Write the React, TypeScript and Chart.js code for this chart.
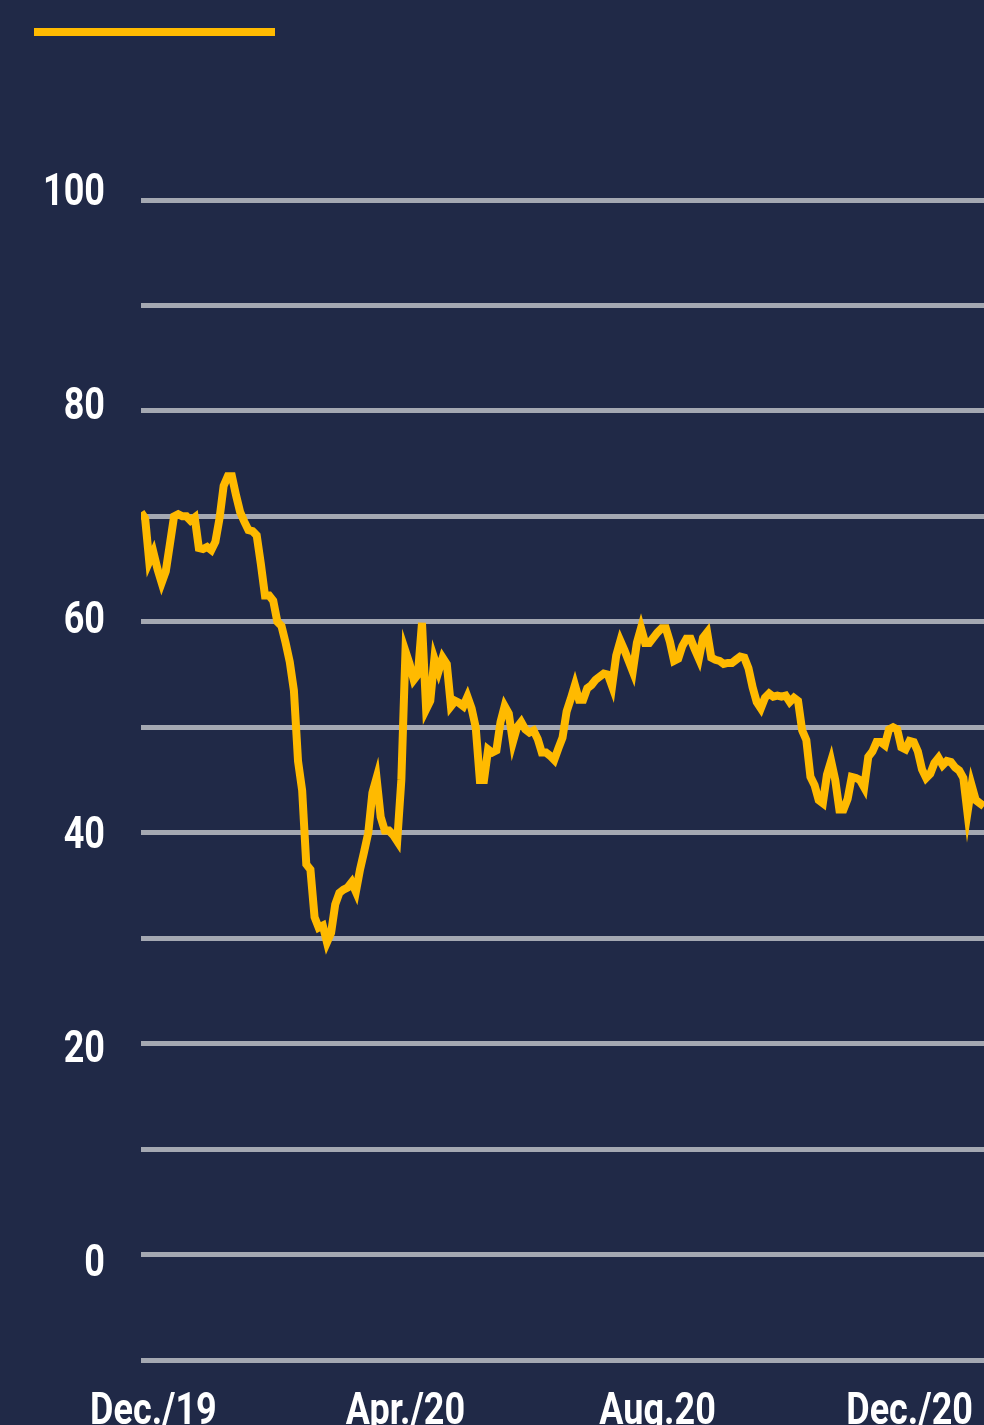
import React, { useEffect, useRef } from "react";
import { Chart, registerables } from "chart.js";

Chart.register(...registerables);

// Index values sampled every 2 days, starting 6 days before 1 Dec 2019
const startDay = -6;
const stepDays = 2;
const values: number[] = [
  70.4, 69.8, 65.7, 66.6, 65.0, 63.7, 64.8, 67.4, 70.0, 70.2,
  70.0, 70.0, 69.6, 69.9, 67.0, 66.9, 67.1, 66.8, 67.6, 69.8,
  72.9, 73.8, 73.8, 72.0, 70.4, 69.5, 68.7, 68.6, 68.2, 65.5,
  62.5, 62.5, 62.0, 60.0, 59.6, 58.0, 56.2, 53.5, 46.8, 44.0,
  37.0, 36.5, 32.0, 31.0, 31.2, 29.6, 30.5, 33.2, 34.3, 34.6,
  34.8, 35.3, 34.4, 36.5, 38.2, 40.0, 43.8, 45.2, 41.5, 40.2,
  40.2, 39.8, 39.2, 45.0, 57.2, 56.0, 54.5, 55.0, 59.9, 51.7,
  52.5, 56.5, 55.3, 56.6, 56.0, 52.0, 52.5, 52.3, 52.0, 52.9,
  51.8, 50.0, 45.0, 45.0, 47.9, 47.6, 47.8, 50.5, 52.0, 51.3,
  48.6, 50.0, 50.5, 49.8, 49.5, 49.7, 48.9, 47.6, 47.6, 47.3,
  46.9, 48.0, 49.0, 51.5, 52.7, 54.0, 52.6, 52.6, 53.7, 54.0,
  54.5, 54.8, 55.1, 55.0, 53.9, 56.8, 58.2, 57.3, 56.3, 55.3,
  58.0, 59.4, 58.0, 58.0, 58.5, 59.0, 59.4, 59.4, 58.1, 56.3,
  56.5, 57.7, 58.4, 58.4, 57.4, 56.5, 58.5, 59.0, 56.6, 56.4,
  56.3, 56.0, 56.1, 56.1, 56.4, 56.7, 56.6, 55.6, 53.8, 52.4,
  51.8, 52.8, 53.2, 52.9, 53.0, 52.9, 53.0, 52.4, 52.8, 52.5,
  49.7, 48.8, 45.3, 44.5, 43.1, 42.8, 45.5, 46.8, 45.0, 42.2,
  42.2, 43.2, 45.3, 45.2, 45.0, 44.3, 47.2, 47.7, 48.6, 48.6,
  48.3, 49.8, 50.0, 49.8, 48.1, 47.9, 48.7, 48.6, 47.7, 46.0,
  45.2, 45.6, 46.6, 47.1, 46.4, 46.8, 46.7, 46.2, 45.9, 45.2,
  41.9, 44.5, 43.1, 42.8, 42.5,
];

const xTickDays = [0, 122, 244, 366];
const xTickLabels = ["Dec./19", "Apr./20", "Aug.20", "Dec./20"];
const yLabelValues = [0, 20, 40, 60, 80, 100];

const BG = "#202947";
const YELLOW = "#FFBA00";
const GRID = "#A4A8B2";
const LABEL_FONT = 'bold 45px Roboto, "Noto Sans", sans-serif';
const CONDENSE = 0.8;

// Draws the condensed (Roboto-Condensed-like) tick labels from the chart's scales
const condensedLabels = {
  id: "condensedLabels",
  afterDraw(chart: any) {
    const ctx = chart.ctx as CanvasRenderingContext2D;
    const xs = chart.scales.x;
    const yl = chart.scales.yl;
    const area = chart.chartArea;
    ctx.save();
    ctx.font = LABEL_FONT;
    ctx.fillStyle = "#FFFFFF";
    ctx.textBaseline = "alphabetic";
    yLabelValues.forEach((v) => {
      const py = yl.getPixelForValue(v);
      ctx.save();
      ctx.translate(area.left - 36, py + 16);
      ctx.scale(CONDENSE, 1);
      ctx.textAlign = "right";
      ctx.fillText(String(v), 0, 0);
      ctx.restore();
    });
    xTickDays.forEach((d, k) => {
      const px = xs.getPixelForValue(d);
      ctx.save();
      ctx.translate(px, area.bottom + 64);
      ctx.scale(CONDENSE, 1);
      ctx.textAlign = "center";
      ctx.fillText(xTickLabels[k], 0, 0);
      ctx.restore();
    });
    ctx.restore();
  },
};

export default function App() {
  const ref = useRef<HTMLCanvasElement | null>(null);

  useEffect(() => {
    if (!ref.current) return;
    const points = values.map((v, i) => ({ x: startDay + stepDays * i, y: v }));
    const chart = new Chart(ref.current, {
      type: "line",
      data: {
        datasets: [
          {
            data: points,
            borderColor: YELLOW,
            borderWidth: 8,
            pointRadius: 0,
            tension: 0,
            fill: false,
          },
        ],
      },
      options: {
        animation: false,
        responsive: false,
        devicePixelRatio: 1,
        layout: { padding: { top: 200, left: 0, right: 0, bottom: 0 } },
        plugins: { legend: { display: false }, tooltip: { enabled: false } },
        scales: {
          x: {
            type: "linear",
            min: startDay,
            max: startDay + stepDays * (values.length - 1),
            grid: { display: false, drawTicks: false },
            border: { display: false },
            ticks: { display: false },
            afterFit: (s: any) => {
              s.height = 100;
              s.paddingLeft = 0;
              s.paddingRight = 0;
            },
          },
          y: {
            position: "left",
            min: -10,
            max: 100,
            grid: { color: GRID, lineWidth: 5, drawTicks: false },
            border: { display: false },
            ticks: { stepSize: 10, display: false },
            afterFit: (s: any) => {
              s.width = 141;
              s.paddingTop = 0;
              s.paddingBottom = 0;
            },
          },
          yl: {
            position: "left",
            min: -100 / 10.71,
            max: 1060 / 10.71,
            grid: { display: false, drawTicks: false },
            border: { display: false },
            ticks: { display: false },
            afterFit: (s: any) => {
              s.width = 0;
              s.paddingTop = 0;
              s.paddingBottom = 0;
            },
          },
        },
      },
      plugins: [condensedLabels],
    } as any);
    return () => chart.destroy();
  }, []);

  return (
    <div
      style={{
        position: "absolute",
        left: 0,
        top: 0,
        width: 984,
        height: 1425,
        overflow: "hidden",
        background: BG,
      }}
    >
      <div
        style={{
          position: "absolute",
          left: 34,
          top: 28,
          width: 241,
          height: 8,
          background: YELLOW,
        }}
      />
      <canvas
        ref={ref}
        width={984}
        height={1460}
        style={{ position: "absolute", left: 0, top: 0, width: 984, height: 1460 }}
      />
    </div>
  );
}
